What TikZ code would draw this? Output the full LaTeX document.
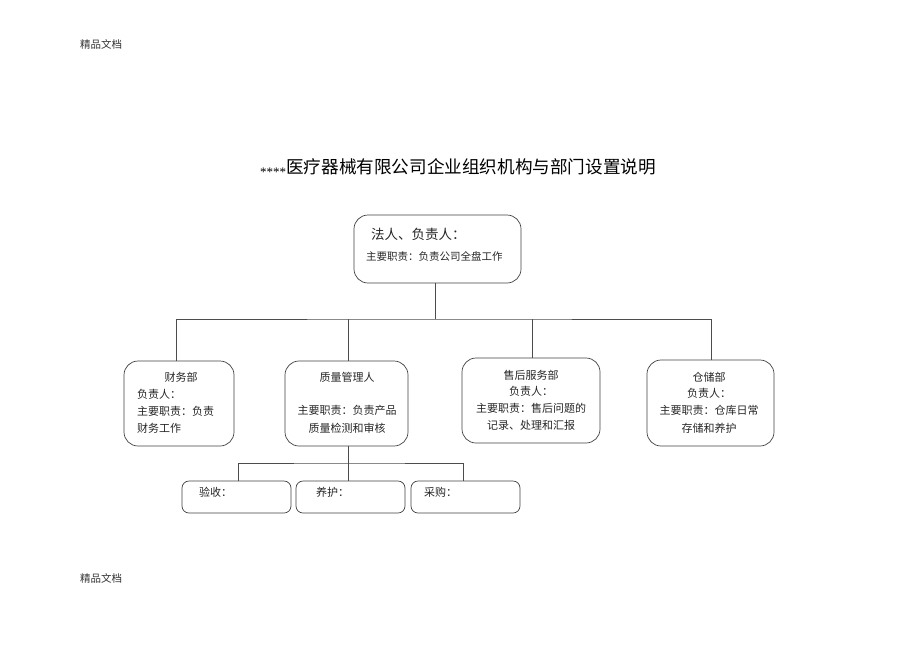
\documentclass[tikz,border=0pt]{standalone}
\usepackage{fontspec}
\setmainfont{Liberation Serif}
\newfontfamily\cjk{Noto Sans CJK SC}
\begin{document}
\begin{tikzpicture}[x=1pt,y=-1pt,
  box/.style={draw=black!75,line width=0.7pt,rounded corners=14pt},
  conn/.style={draw=black!70,line width=0.7pt},
  txt/.style={font=\cjk\fontsize{11}{13}\selectfont,inner sep=0pt,text=black!85},
  hdr/.style={font=\cjk\fontsize{10.5}{12}\selectfont,inner sep=0pt,text=black!80}]
\useasboundingbox (0,0) rectangle (920,651);
\node[hdr,anchor=west] (h1) at (80,44) {精品文档};
\node[hdr,anchor=west] (h2) at (80,578) {精品文档};
\node[inner sep=0pt,anchor=west] (title) at (260,168) {{\fontsize{13}{14}\selectfont\raisebox{-3pt}{****}}{\cjk\fontsize{17.6}{19}\selectfont 医疗器械有限公司企业组织机构与部门设置说明}};
% top
\draw[box] (354,215) rectangle (521,283);
\coordinate (topb) at (435,283);
\node[txt,anchor=west,font=\cjk\fontsize{13.5}{15}\selectfont] (t1) at (371,234) {法人、负责人：};
\node[txt,anchor=west,font=\cjk\fontsize{10.5}{12}\selectfont] (t2) at (366,256) {主要职责：负责公司全盘工作};
% level 2 boxes
\draw[box] (124,361) rectangle (234,446);
\draw[box] (285,361) rectangle (408,446);
\draw[box] (462,358) rectangle (600,443);
\draw[box] (647,360) rectangle (774,446);
\coordinate (a) at (176,361);
\coordinate (b) at (348,361);
\coordinate (c) at (532,358);
\coordinate (d) at (711,360);
\coordinate (bar) at (435,319);
\draw[conn] (topb) -- (bar);
\draw[conn] (a) |- (bar) -| (d);
\draw[conn] (b) -- (b |- bar);
\draw[conn] (c) -- (c |- bar);
% texts
\node[txt] (f0) at (181,377) {财务部};
\node[txt,anchor=west] (f1) at (137,394) {负责人：};
\node[txt,anchor=west] (f2) at (137,411) {主要职责：负责};
\node[txt,anchor=west] (f3) at (137,428) {财务工作};
\node[txt] (q0) at (347,377) {质量管理人};
\node[txt] (q2) at (347,410) {主要职责：负责产品};
\node[txt] (q3) at (347,428) {质量检测和审核};
\node[txt] (s0) at (531,375) {售后服务部};
\node[txt] (s1) at (531,391) {负责人：};
\node[txt] (s2) at (531,408) {主要职责：售后问题的};
\node[txt] (s3) at (531,425) {记录、处理和汇报};
\node[txt] (w0) at (709,377) {仓储部};
\node[txt] (w1) at (709,393) {负责人：};
\node[txt] (w2) at (709,410) {主要职责：仓库日常};
\node[txt] (w3) at (709,428) {存储和养护};
% level 3
\draw[box,rounded corners=7pt] (182,481) rectangle (291,513);
\draw[box,rounded corners=7pt] (296,481) rectangle (405,513);
\draw[box,rounded corners=7pt] (411,481) rectangle (520,513);
\coordinate (qb) at (348,446);
\coordinate (sbar) at (348,463);
\coordinate (e) at (238,481);
\coordinate (f) at (348,481);
\coordinate (g) at (463,481);
\draw[conn] (qb) -- (f);
\draw[conn] (e) |- (sbar) -| (g);
\node[txt,anchor=west] (v1) at (199,492) {验收：};
\node[txt,anchor=west] (v2) at (316,492) {养护：};
\node[txt,anchor=west] (v3) at (424,492) {采购：};
\end{tikzpicture}
\end{document}
